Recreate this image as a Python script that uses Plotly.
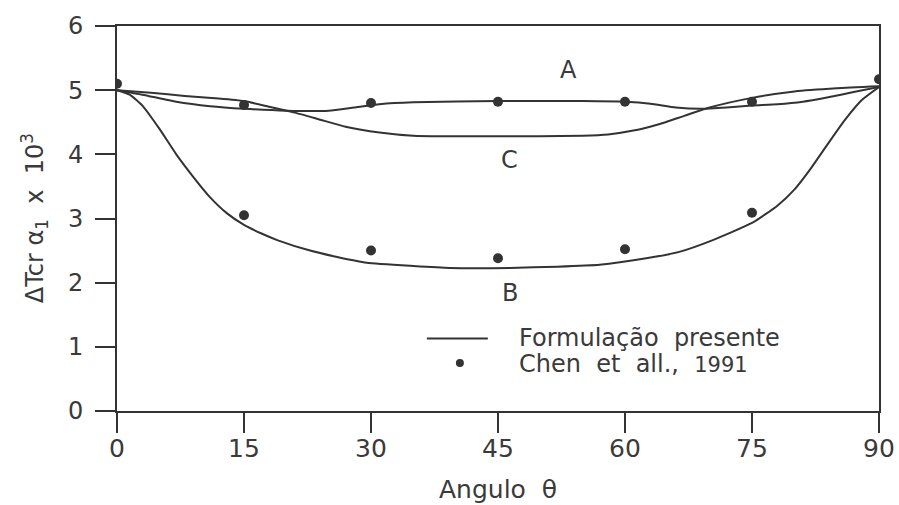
import plotly.graph_objects as go

# Curve A
theta_a = [0, 3, 7, 11, 15, 20, 25, 28, 31, 35, 45, 55, 60, 63, 66, 69, 72, 75, 78, 81, 84, 87, 90]
curve_a = [5.0, 4.93, 4.82, 4.75, 4.71, 4.68, 4.68, 4.73, 4.78, 4.81, 4.83, 4.83, 4.82, 4.79, 4.73, 4.71, 4.73, 4.76, 4.78, 4.82, 4.89, 4.97, 5.05]

# Curve C
theta_c = [0, 4, 8, 12, 15, 18, 21, 24, 27, 31, 35, 45, 55, 58, 61, 64, 67, 70, 75, 80, 85, 90]
curve_c = [5.0, 4.96, 4.91, 4.87, 4.83, 4.74, 4.65, 4.54, 4.43, 4.34, 4.29, 4.28, 4.29, 4.31, 4.37, 4.47, 4.6, 4.73, 4.88, 4.98, 5.03, 5.06]

# Curve B
theta_b = [0, 1.5, 3, 5, 7, 9, 11, 13, 15, 17, 19, 22.8, 26, 29.5, 35, 39.3, 46.4, 52, 57,
           62.5, 66.4, 70.3, 75, 78, 80, 82, 84, 86, 88, 90]
curve_b = [5.0, 4.93, 4.76, 4.4, 4.0, 3.65, 3.33, 3.08, 2.9, 2.77, 2.66, 2.5, 2.4, 2.31, 2.26, 2.23, 2.23, 2.25, 2.28,
           2.38, 2.48, 2.66, 2.93, 3.2, 3.45, 3.79, 4.17, 4.54, 4.85, 5.05]

# Chen et all., 1991
theta_chen = [0, 15, 15, 30, 30, 45, 45, 60, 60, 75, 75, 90]
value_chen = [5.1, 4.77, 3.05, 4.8, 2.5, 4.82, 2.38, 4.82, 2.52, 4.82, 3.09, 5.17]

x_ticks = [0, 15, 30, 45, 60, 75, 90]
y_ticks = [0, 1, 2, 3, 4, 5, 6]

INK = "#333333"
TXT = "#3a3a3a"
FONT = "DejaVu Sans"

fig = go.Figure()
for tx, cy in [(theta_a, curve_a), (theta_c, curve_c), (theta_b, curve_b)]:
    fig.add_trace(go.Scatter(x=tx, y=cy, mode="lines",
                             line=dict(color=INK, width=2, shape="spline", smoothing=0.5),
                             showlegend=False, hoverinfo="skip"))
fig.add_trace(go.Scatter(x=theta_chen, y=value_chen, mode="markers",
                         marker=dict(color=INK, size=10), showlegend=False))

axis_common = dict(showline=True, linecolor=INK, linewidth=2, mirror=True,
                   ticks="outside", tickcolor=INK, tickwidth=2, showgrid=False,
                   zeroline=False, automargin=False)

fig.update_xaxes(range=[0, 90], tickvals=x_ticks, ticklen=20, ticklabelstandoff=-6,
                 tickfont=dict(family=FONT, color=TXT, size=25), **axis_common)
fig.update_yaxes(range=[0, 6], tickvals=y_ticks, ticklen=20, ticklabelstandoff=7,
                 tickfont=dict(family=FONT, color=TXT, size=24), **axis_common)

# Legend keys
legend_shapes = [
    dict(type="line", xref="x", yref="y", x0=36.6, x1=43.8, y0=1.13, y1=1.13,
         line=dict(color=INK, width=2)),
    dict(type="circle", xref="x", yref="y", xsizemode="pixel", ysizemode="pixel",
         xanchor=40.5, yanchor=0.75, x0=-4, x1=4, y0=-4, y1=4,
         fillcolor=INK, line=dict(color=INK, width=0)),
]

annotations = [
    dict(x=47.2, y=1.13, xref="x", yref="y", text="Formulação  presente", showarrow=False,
         xanchor="left", yanchor="middle", font=dict(family=FONT, size=24, color=TXT)),
    dict(x=47.2, y=0.74, xref="x", yref="y",
         text="Chen  et  all.,  <span style='font-size:21px'>1991</span>", showarrow=False,
         xanchor="left", yanchor="middle", font=dict(family=FONT, size=24, color=TXT)),
    dict(x=53.3, y=5.31, xref="x", yref="y", text="A", showarrow=False,
         font=dict(family=FONT, size=24, color=TXT)),
    dict(x=46.4, y=3.91, xref="x", yref="y", text="C", showarrow=False,
         font=dict(family=FONT, size=24, color=TXT)),
    dict(x=46.4, y=1.84, xref="x", yref="y", text="B", showarrow=False,
         font=dict(family=FONT, size=24, color=TXT)),
    dict(x=45, y=-0.205, xref="x", yref="paper", text="Angulo  θ", showarrow=False,
         yanchor="middle", font=dict(family=FONT, size=25, color=TXT)),
    dict(x=-0.108, y=0.50, xref="paper", yref="paper", textangle=-90,
         text="ΔTcr α<sub>1</sub>  x  10<sup>3</sup>", showarrow=False,
         xanchor="center", yanchor="middle", font=dict(family=FONT, size=24, color=TXT)),
]

fig.update_layout(
    width=899, height=505,
    margin=dict(l=117, r=20, t=26, b=94),
    paper_bgcolor="white", plot_bgcolor="white",
    shapes=legend_shapes, annotations=annotations,
)

fig.write_html("out.html")
